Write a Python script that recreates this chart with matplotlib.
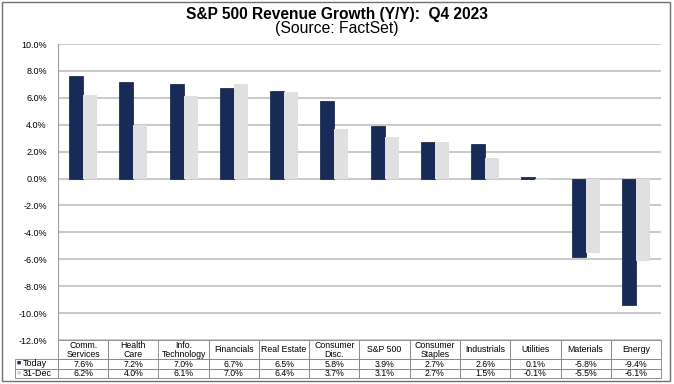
import numpy as np
import matplotlib.pyplot as plt
from matplotlib.patches import Rectangle

categories = ["Comm.\nServices", "Health\nCare", "Info.\nTechnology", "Financials",
              "Real Estate", "Consumer\nDisc.", "S&P 500", "Consumer\nStaples",
              "Industrials", "Utilities", "Materials", "Energy"]
today = [7.6, 7.2, 7.0, 6.7, 6.5, 5.8, 3.9, 2.7, 2.6, 0.1, -5.8, -9.4]
dec31 = [6.2, 4.0, 6.1, 7.0, 6.4, 3.7, 3.1, 2.7, 1.5, -0.1, -5.5, -6.1]
series = ["Today", "31-Dec"]
yticks = np.arange(-12, 11, 2)

navy = "#182a57"
light = "#e0e0e0"

plt.rcParams["font.family"] = ["Liberation Sans", "DejaVu Sans"]

fig = plt.figure(figsize=(6.74, 3.84), dpi=100)
ax_w = 661 - 58
ax_h = 340 - 44
ax = fig.add_axes([58 / 674, 1 - 340 / 384, ax_w / 674, ax_h / 384])

x = np.arange(len(categories))
ax.bar(x - 0.14, today, width=0.28, color=navy, edgecolor="#0d1a3a", linewidth=0.5, zorder=3)
ax.bar(x + 0.14, dec31, width=0.28, color=light, zorder=3)

ax.set_xlim(-0.5, len(categories) - 0.5)
ax.set_ylim(-12, 10)
ax.set_yticks(yticks)
ax.set_yticklabels([f"{v:.1f}%" for v in yticks], fontsize=6.5)
ax.yaxis.grid(True, color="#c0c0c0", linewidth=1.2, zorder=0)
ax.tick_params(axis="y", length=0, pad=8)
ax.set_xticks([])
for s in ["top", "right", "bottom"]:
    ax.spines[s].set_visible(False)
ax.spines["left"].set_color("#a0a0a0")

fig.text(0.5, 1 - 14 / 384, "S&P 500 Revenue Growth (Y/Y):  Q4 2023", ha="center",
         va="center", fontsize=11.2, fontweight="bold")
fig.text(0.5, 1 - 28 / 384, "(Source: FactSet)", ha="center", va="center", fontsize=11.3)

# data table under the chart, first column holds the series names
lab_w = 43
rows = [[""] + list(categories),
        [""] + [f"{v:.1f}%" for v in today],
        [""] + [f"{v:.1f}%" for v in dec31]]
col_w = [lab_w] + [ax_w / len(categories)] * len(categories)
tab = ax.table(cellText=rows, colWidths=col_w, cellLoc="center",
               bbox=[-lab_w / ax_w, -38 / ax_h, (ax_w + lab_w) / ax_w, 38 / ax_h])
tab.auto_set_font_size(False)
tab.set_fontsize(6.3)
for (r, c), cell in tab.get_celld().items():
    cell.set_edgecolor("#808080")
    cell.set_linewidth(0.6)
    cell.get_text().set_linespacing(0.95)
    if r == 0:
        cell.set_height(cell.get_height() * 2.1)
        if c == 0:
            cell.visible_edges = ""

# legend keys in the label column
row_y = [(340 - 363.5) / ax_h, (340 - 373) / ax_h]
for name, col, yy in zip(series, [navy, "#d0d0d0"], row_y):
    ax.text(-41 / ax_w, yy, "\u25a0", color=col, fontsize=5, va="center", ha="left",
            transform=ax.transAxes)
    ax.text(-35 / ax_w, yy, name, fontsize=6.5, va="center", ha="left",
            transform=ax.transAxes)

# outer frame
fig.patches.append(Rectangle((2 / 674, 3 / 384), 668 / 674, 379 / 384, transform=fig.transFigure,
                             fill=False, edgecolor="#707070", linewidth=1))

fig.savefig("out.png", dpi=100)
